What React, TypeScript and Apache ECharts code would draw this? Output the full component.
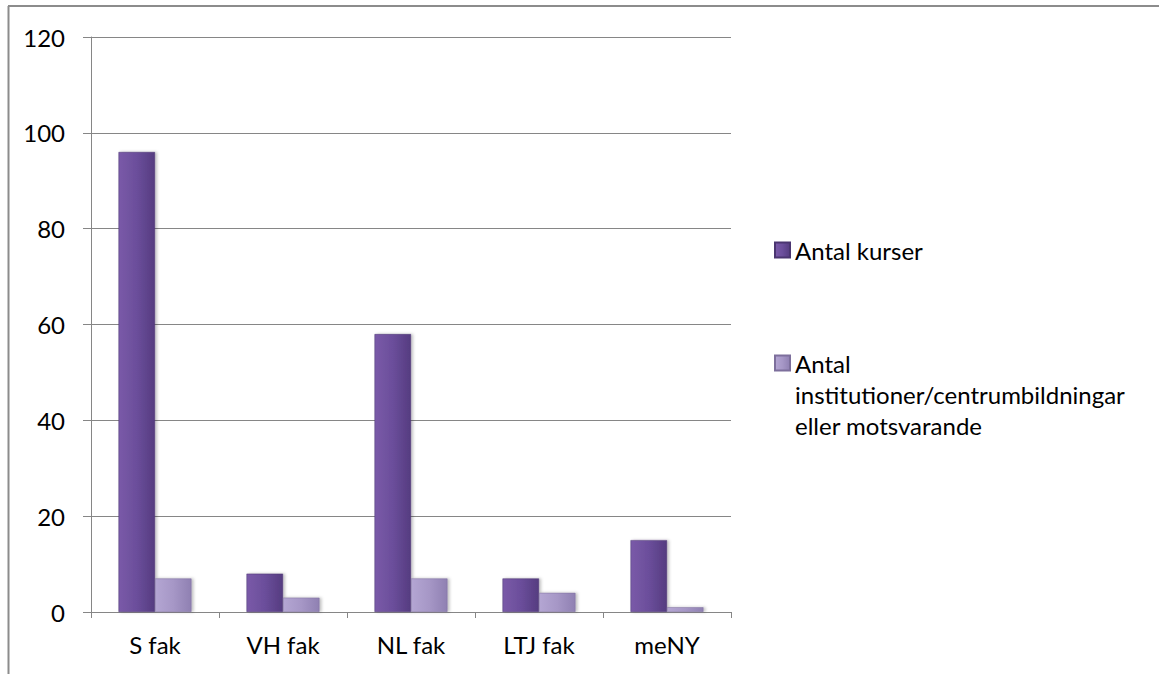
import React, { useEffect, useRef } from "react";
import * as echarts from "echarts";

const categories = ["S fak", "VH fak", "NL fak", "LTJ fak", "meNY"];
const seriesNames = ["Antal kurser", "Antal institutioner/centrumbildningar eller motsvarande"];
const legendLabels = ["Antal kurser", "Antal\ninstitutioner/centrumbildningar\neller motsvarande"];
const antalKurser = [96, 8, 58, 7, 15];
const antalInstitutioner = [7, 3, 7, 4, 1];
const yTicks = { min: 0, max: 120, interval: 20 };

const FONT = "Lato, 'Open Sans', sans-serif";
const FS = 24;
const LH = 31;

export default function App() {
  const ref = useRef<HTMLDivElement>(null);
  useEffect(() => {
    if (!ref.current) return;
    const chart = echarts.init(ref.current, undefined, { renderer: "svg" });
    const darkGrad = new echarts.graphic.LinearGradient(0, 0, 1, 0, [
      { offset: 0, color: "#7a5aa8" },
      { offset: 0.5, color: "#6b4e9b" },
      { offset: 1, color: "#553c80" },
    ]);
    const lightGrad = new echarts.graphic.LinearGradient(0, 0, 1, 0, [
      { offset: 0, color: "#b4a6d3" },
      { offset: 0.5, color: "#a697c6" },
      { offset: 1, color: "#8f80b2" },
    ]);
    chart.setOption({
      animation: false,
      backgroundColor: "#ffffff",
      textStyle: { fontFamily: FONT },
      graphic: [
        {
          type: "line",
          shape: { x1: 8, y1: 6, x2: 1159, y2: 6 },
          style: { stroke: "#8c8c8c", lineWidth: 2 },
          silent: true,
        },
        {
          type: "line",
          shape: { x1: 8.5, y1: 6, x2: 8.5, y2: 674 },
          style: { stroke: "#8c8c8c", lineWidth: 2 },
          silent: true,
        },
      ],
      grid: { left: 91, top: 37, right: 428, bottom: 62, containLabel: false },
      legend: [
        {
          orient: "vertical",
          left: 774,
          top: 250 - LH / 2,
          padding: 0,
          itemWidth: 15,
          itemHeight: 15,
          icon: "rect",
          data: [seriesNames[0]],
          formatter: () => legendLabels[0],
          textStyle: { fontSize: FS, color: "#000", fontFamily: FONT, lineHeight: LH },
        },
        {
          orient: "vertical",
          left: 774,
          top: 363 - 2.5 * LH,
          padding: 0,
          itemWidth: 15,
          itemHeight: 15,
          icon: "rect",
          data: [seriesNames[1]],
          formatter: () => "\n\n" + legendLabels[1],
          textStyle: { fontSize: FS, color: "#000", fontFamily: FONT, lineHeight: LH },
        },
      ],
      xAxis: {
        type: "category",
        data: categories,
        axisLine: { lineStyle: { color: "#868686", width: 1 } },
        axisTick: { show: true, length: 6, alignWithLabel: false, lineStyle: { color: "#868686" } },
        axisLabel: { fontSize: FS, color: "#000", margin: 20, fontFamily: FONT },
        splitLine: { show: false },
      },
      yAxis: {
        type: "value",
        min: yTicks.min,
        max: yTicks.max,
        interval: yTicks.interval,
        axisLine: { show: true, lineStyle: { color: "#868686", width: 1 } },
        axisTick: { show: true, length: 8, lineStyle: { color: "#868686" } },
        axisLabel: { fontSize: FS, color: "#000", margin: 26, fontFamily: FONT },
        splitLine: { show: true, lineStyle: { color: "#868686", width: 1 } },
      },
      series: [
        {
          name: seriesNames[0],
          type: "bar",
          data: antalKurser,
          barGap: "0%",
          barCategoryGap: "43%",
          itemStyle: {
            color: darkGrad,
            borderColor: "#4a3570",
            borderWidth: 0.5,
            shadowBlur: 3,
            shadowOffsetX: 2,
            shadowColor: "rgba(0,0,0,0.25)",
          },
        },
        {
          name: seriesNames[1],
          type: "bar",
          data: antalInstitutioner,
          barGap: "0%",
          barCategoryGap: "43%",
          itemStyle: {
            color: lightGrad,
            borderColor: "#7d6f9c",
            borderWidth: 0.5,
            shadowBlur: 3,
            shadowOffsetX: 2,
            shadowColor: "rgba(0,0,0,0.25)",
          },
        },
      ],
    });
    return () => chart.dispose();
  }, []);
  return (
    <div
      ref={ref}
      style={{ position: "fixed", left: 0, top: 0, width: 1159, height: 674 }}
    />
  );
}
